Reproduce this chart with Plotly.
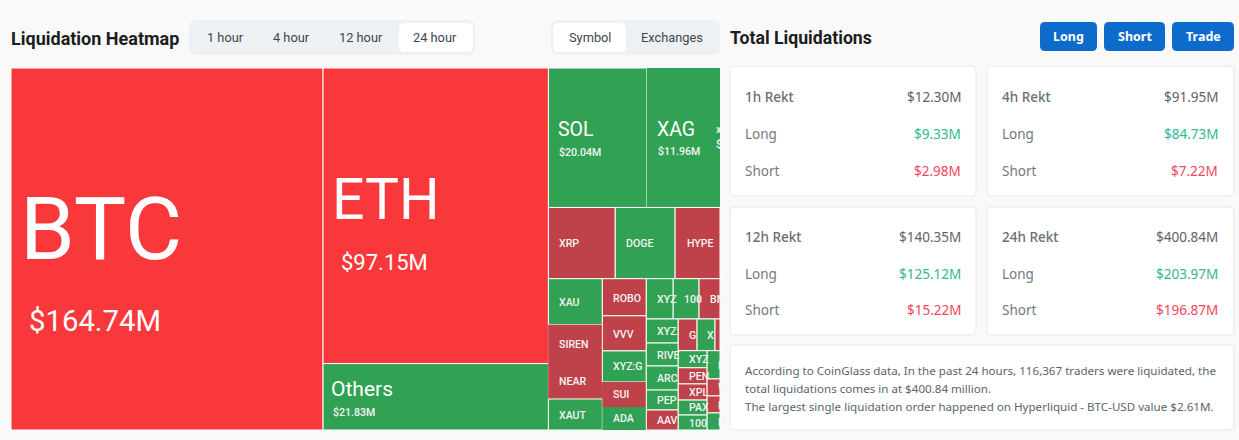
import plotly.graph_objects as go

W = 1239
H = 440

# heatmap: inner groups only steer the slice/dice layout
group_ids = ["root", "col_0", "col_a", "col_b", "row_top", "row_mid", "row_low",
             "low_a", "low_b", "low_c", "c_top", "c_bot", "c_left", "c_right",
             "cr_top", "cr_bot", "cr_a", "cr_b"]
group_parents = ["", "root", "root", "root", "col_b", "col_b", "col_b",
                 "row_low", "row_low", "row_low", "low_c", "low_c", "c_bot", "c_bot",
                 "c_right", "c_right", "cr_bot", "cr_bot"]

symbols = ["BTC", "ETH", "Others", "SOL", "XAG", "XYZ:SILVER", "XRP", "DOGE", "HYPE",
           "XAU", "SIREN", "NEAR", "XAUT",
           "ROBO", "VVV", "XYZ:GOLD", "SUI", "ADA",
           "XYZ:A", "1000A", "BNB",
           "XYZ:B", "RIVER", "ARC", "PEPE", "AAVE",
           "GRT", "XYZ:C", "ZEC",
           "XYZ:D", "PENGU", "XPL", "PAXG", "1000B",
           "ENA", "WLD", "LTC", "DOT"]
usd_m = [164.74, 97.15, 21.83, 20.04, 11.96, 2.90, 6.94, 6.22, 4.66,
         3.62, 2.92, 2.92, 2.44,
         2.38, 2.25, 1.99, 1.60, 1.48,
         1.58, 1.52, 1.23,
         1.12, 1.07, 1.12, 0.93, 0.93,
         0.87, 0.83, 0.23,
         0.72, 0.68, 0.68, 0.63, 0.63,
         0.53, 0.32, 0.32, 0.32]
side = ["hot", "hot", "long", "long", "long", "long", "short", "long", "short",
        "long", "short", "short", "long",
        "short", "short", "long", "short", "long",
        "long", "long", "short",
        "long", "long", "long", "long", "short",
        "short", "long", "short",
        "long", "short", "short", "long", "long",
        "long", "short", "short", "long"]
leaf_parents = ["col_0", "col_a", "col_a", "row_top", "row_top", "row_top", "row_mid", "row_mid", "row_mid",
                "low_a", "low_a", "low_a", "low_a",
                "low_b", "low_b", "low_b", "low_b", "low_b",
                "c_top", "c_top", "c_top",
                "c_left", "c_left", "c_left", "c_left", "c_left",
                "cr_top", "cr_top", "cr_top",
                "cr_a", "cr_a", "cr_a", "cr_a", "cr_a",
                "cr_b", "cr_b", "cr_b", "cr_b"]
no_divider = ["XAG", "XYZ:SILVER", "SIREN", "NEAR", "SUI", "ADA"]

# text drawn on the cells: text, x, y, size
big_text = [
    ("BTC", 19, 228, 88), ("$164.74M", 28, 321, 29.3),
    ("ETH", 331, 199, 57), ("$97.15M", 340, 262, 22),
    ("Others", 330, 389, 21),
    ("SOL", 557, 129, 19.5),
    ("XAG", 656, 129, 19.5),
]
small_text = [
    ("$21.83M", 332, 412), ("$20.04M", 558, 153), ("$11.96M", 657, 151),
    ("x", 715, 129), ("$", 715, 144),
    ("XRP", 558, 243), ("DOGE", 625, 243), ("HYPE", 686, 243),
    ("XAU", 558, 302), ("SIREN", 558, 344), ("NEAR", 558, 381), ("XAUT", 558, 415),
    ("ROBO", 612, 298), ("VVV", 612, 334), ("XYZ:G", 612, 366),
    ("SUI", 612, 394), ("ADA", 612, 418),
    ("XYZ", 656, 299), ("100", 683, 299), ("BN", 709, 299),
    ("XYZ:", 656, 331), ("RIVE", 656, 355), ("ARC", 656, 378),
    ("PEP", 656, 400), ("AAV", 656, 420),
    ("G", 688, 335), ("X", 706, 335),
    ("XYZ", 688, 359), ("PEN", 688, 376), ("XPL", 688, 392),
    ("PAX", 688, 407), ("100", 688, 423),
    ("E", 717, 365), ("W", 717, 387), ("L", 717, 405), ("D", 717, 422),
]

hour_tabs = ["1 hour", "4 hour", "12 hour", "24 hour"]
view_tabs = ["Symbol", "Exchanges"]
buttons = ["Long", "Short", "Trade"]

card_titles = ["1h Rekt", "4h Rekt", "12h Rekt", "24h Rekt"]
card_total = ["$12.30M", "$91.95M", "$140.35M", "$400.84M"]
card_long = ["$9.33M", "$84.73M", "$125.12M", "$203.97M"]
card_short = ["$2.98M", "$7.22M", "$15.22M", "$196.87M"]

summary = [
    "According to CoinGlass data, In the past 24 hours, 116,367 traders were liquidated, the",
    "total liquidations comes in at $400.84 million.",
    "The largest single liquidation order happened on Hyperliquid - BTC-USD value $2.61M.",
]

DIN = "Roboto"
BODY = "Noto Sans"
RED_HOT = "#f9383c"
RED = "#bf4149"
GREEN = "#31a153"
side_colors = {"hot": RED_HOT, "short": RED, "long": GREEN}
# fill behind a cell where no divider is wanted
group_fill = {"low_a": RED, "row_top": GREEN, "low_b": GREEN}


def round_rect(x0, y0, x1, y1, r, fill, line=None):
    # pixel box to a rounded paper shape
    px = lambda v: v / W
    py = lambda v: 1 - v / H
    path = (f"M {px(x0 + r)} {py(y0)} L {px(x1 - r)} {py(y0)} "
            f"Q {px(x1)} {py(y0)} {px(x1)} {py(y0 + r)} L {px(x1)} {py(y1 - r)} "
            f"Q {px(x1)} {py(y1)} {px(x1 - r)} {py(y1)} L {px(x0 + r)} {py(y1)} "
            f"Q {px(x0)} {py(y1)} {px(x0)} {py(y1 - r)} L {px(x0)} {py(y0 + r)} "
            f"Q {px(x0)} {py(y0)} {px(x0 + r)} {py(y0)} Z")
    return dict(type="path", path=path, xref="paper", yref="paper", fillcolor=fill,
                line=dict(color=line or fill, width=1 if line else 0), layer="below")


def label(text, x, y, size, color, font=BODY, anchor="left", weight=400):
    return dict(text=text, x=x / W, y=1 - y / H, xref="paper", yref="paper", xanchor=anchor,
                yanchor="middle", showarrow=False, borderpad=0,
                font=dict(size=size, color=color, family=font, weight=weight))


ids = group_ids + symbols
labels = ["" for _ in group_ids] + symbols
parents = group_parents + leaf_parents
values = [0 for _ in group_ids] + usd_m
colors = [group_fill.get(g, "#ffffff") for g in group_ids] + [side_colors[s] for s in side]
line_widths = [0 for _ in group_ids] + [0 if s in no_divider else 1 for s in symbols]

fig = go.Figure(go.Treemap(
    ids=ids,
    labels=labels,
    parents=parents,
    values=values,
    branchvalues="remainder",
    sort=False,
    textinfo="none",
    hoverinfo="skip",
    tiling=dict(packing="slice-dice", pad=0),
    pathbar=dict(visible=False),
    marker=dict(colors=colors, depthfade=False, pad=dict(t=0, l=0, r=0, b=0),
                line=dict(color="#ffffff", width=line_widths)),
    domain=dict(x=[11 / W, 720 / W], y=[1 - 430 / H, 1 - 68 / H]),
))

shapes = []
notes = []

for t in big_text:
    notes.append(label(t[0], t[1], t[2], t[3], "#ffffff", DIN))
for t in small_text:
    notes.append(label(t[0], t[1], t[2], 10.6, "#f4f4f4", DIN, weight=500))

# header left
notes.append(label("Liquidation Heatmap", 10, 38, 18, "#1b1d21", DIN, weight=700))
shapes.append(round_rect(189, 20, 475, 55, 7, "#eef1f4"))
shapes.append(round_rect(399, 23, 473, 52, 6, "#ffffff"))
for t, cx in zip(hour_tabs, [225, 291, 361, 435]):
    notes.append(label(t, cx, 37, 12.8, "#3f454d", DIN, anchor="center"))
shapes.append(round_rect(551, 20, 720, 55, 7, "#eef1f4"))
shapes.append(round_rect(553, 23, 626, 52, 6, "#ffffff"))
for t, cx in zip(view_tabs, [590, 672]):
    notes.append(label(t, cx, 37, 12.8, "#3f454d", DIN, anchor="center"))

# header right
notes.append(label("Total Liquidations", 729, 38, 17.7, "#1b1d21", "Roboto", weight=700))
for t, x0, x1 in zip(buttons, [1040, 1104, 1172], [1097, 1165, 1234]):
    shapes.append(round_rect(x0, 22, x1, 51, 5, "#0d6ccb"))
    notes.append(label(t, (x0 + x1) / 2, 36.5, 12.5, "#ffffff", BODY, anchor="center", weight=700))

# cards
card_x = [(730, 976), (987, 1234), (730, 976), (987, 1234)]
card_y = [(66, 196), (66, 196), (207, 335), (207, 335)]
row_y = [(96.5, 134, 171), (96.5, 134, 171), (237, 274, 310), (237, 274, 310)]
right_pad = [14, 15, 14, 15]
for i in range(4):
    x0, x1 = card_x[i]
    y0, y1 = card_y[i]
    r0, r1, r2 = row_y[i]
    rx = x1 - right_pad[i]
    shapes.append(round_rect(x0, y0, x1, y1, 5, "#ffffff", "#e7e8ea"))
    notes.append(label(card_titles[i], x0 + 14, r0, 13.5, "#686e77", BODY, weight=500))
    notes.append(label(card_total[i], rx, r0, 13.5, "#5c636c", BODY, anchor="right"))
    notes.append(label("Long", x0 + 14, r1, 13.5, "#737a84", BODY))
    notes.append(label(card_long[i], rx, r1, 13.5, "#2fb894", BODY, anchor="right"))
    notes.append(label("Short", x0 + 14, r2, 13.5, "#737a84", BODY))
    notes.append(label(card_short[i], rx, r2, 13.5, "#f6445c", BODY, anchor="right"))

shapes.append(round_rect(730, 345, 1234, 430, 5, "#ffffff", "#e7e8ea"))
for t, y in zip(summary, [370, 388.5, 406.5]):
    notes.append(label(t, 744, y, 11.6, "#5c636c", BODY))

fig.update_layout(
    width=W,
    height=H,
    margin=dict(l=0, r=0, t=0, b=0),
    paper_bgcolor="#f9f9f9",
    plot_bgcolor="#f9f9f9",
    shapes=shapes,
    annotations=notes,
    showlegend=False,
)

fig.write_html(
    "out.html",
    config=dict(displayModeBar=False),
    post_script="document.body.style.margin='0';document.body.style.overflow='hidden';",
)
